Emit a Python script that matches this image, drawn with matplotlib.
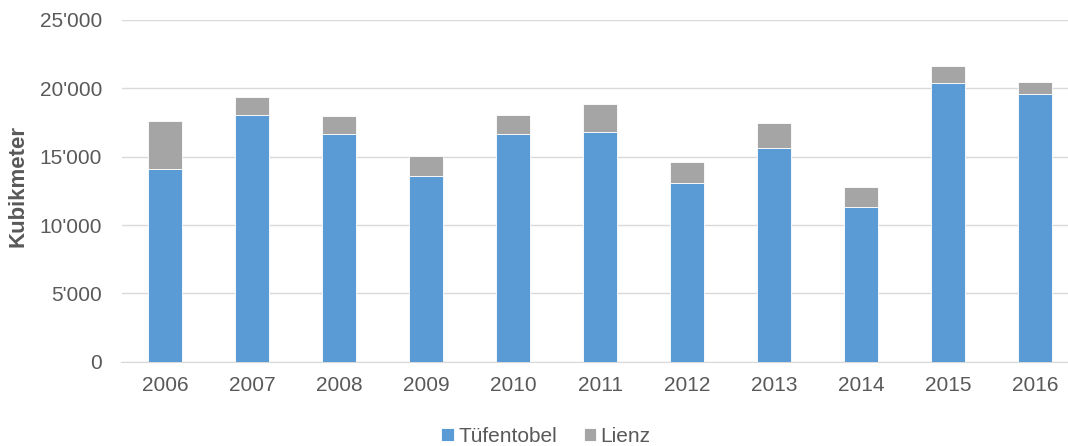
import matplotlib
matplotlib.use("Agg")
import matplotlib.pyplot as plt
import numpy as np
from matplotlib.ticker import FuncFormatter

plt.rcParams['font.family'] = ['Liberation Sans', 'DejaVu Sans']

years = ["2006", "2007", "2008", "2009", "2010", "2011", "2012", "2013", "2014", "2015", "2016"]
tuefentobel = [14080, 18040, 16690, 13600, 16690, 16840, 13100, 15640, 11300, 20380, 19550]
lienz_total = [17620, 19360, 17990, 15060, 18060, 18840, 14620, 17500, 12790, 21650, 20430]
lienz = [t - b for t, b in zip(lienz_total, tuefentobel)]

blue = "#5B9BD5"
grey = "#A5A5A5"
txt = "#595959"
fs = 15

fig = plt.figure(figsize=(10.68, 4.46), dpi=100)
ax = fig.add_axes([121.5 / 1068, 84.3 / 446, 957 / 1068, 341.7 / 446])

x = np.arange(len(years))
ax.bar(x, tuefentobel, width=0.4, color=blue, edgecolor="white", linewidth=0.6, label="Tüfentobel", zorder=3)
ax.bar(x, lienz, width=0.4, bottom=tuefentobel, color=grey, edgecolor="white", linewidth=0.6, label="Lienz", zorder=3)

ax.set_xlim(-0.5, len(years) - 0.5)
ax.set_ylim(0, 25000)
ax.set_yticks(np.arange(0, 25001, 5000))
ax.yaxis.set_major_formatter(FuncFormatter(lambda v, p: f"{int(v):,}".replace(",", "'")))
ax.set_xticks(x)
ax.set_xticklabels(years)
ax.grid(axis="y", color="#D9D9D9", linewidth=1, zorder=0)
for s in ["top", "right", "left"]:
    ax.spines[s].set_visible(False)
ax.spines["bottom"].set_color("#D9D9D9")
ax.tick_params(axis="y", length=0, pad=14, labelsize=fs, labelcolor=txt)
ax.tick_params(axis="x", length=0, pad=10, labelsize=fs, labelcolor=txt)
ax.set_ylabel("Kubikmeter", fontsize=16, fontweight="bold", color=txt)
ax.yaxis.set_label_coords(-93 / 957, 0.514)

leg = fig.legend(loc="center", bbox_to_anchor=(546 / 1068, 1 - 436 / 446), ncol=2, frameon=False,
                 fontsize=fs, handlelength=0.6, handleheight=0.6, handletextpad=0.2, columnspacing=1.3)
for t in leg.get_texts():
    t.set_color(txt)

fig.savefig("out.png", dpi=100)
